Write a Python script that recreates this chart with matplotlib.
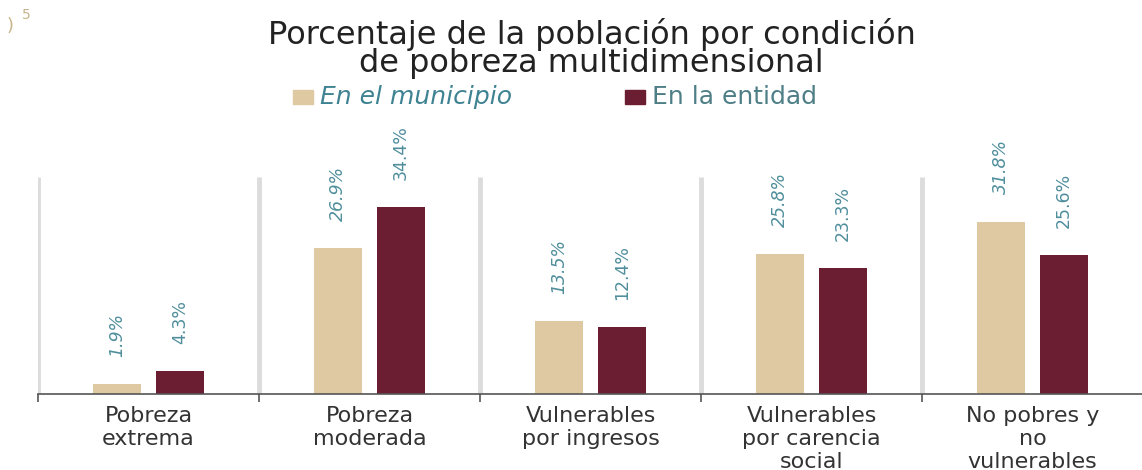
import matplotlib.pyplot as plt

categorias = ['Pobreza\nextrema', 'Pobreza\nmoderada', 'Vulnerables\npor ingresos',
              'Vulnerables\npor carencia\nsocial', 'No pobres y\nno\nvulnerables']
municipio = [1.9, 26.9, 13.5, 25.8, 31.8]
entidad = [4.3, 34.4, 12.4, 23.3, 25.6]

col_mun = '#dfc9a3'
col_ent = '#6b1d32'
col_lbl = '#4f8e9c'

fig = plt.figure(figsize=(11.42, 4.70), dpi=100)
ax = fig.add_axes([0.0333, 0.1617, 0.9676, 0.60])

n = len(categorias)
x = list(range(n))
w = 0.22
off = 0.142

# separadores grises
ax.vlines([i - 0.5 for i in range(n + 1)], 0, 40, colors='#dcdcdc', lw=3.5, zorder=0)

ax.bar([i - off for i in x], municipio, w, color=col_mun, zorder=2)
ax.bar([i + off for i in x], entidad, w, color=col_ent, zorder=2)

for i in x:
    ax.text(i - off, municipio[i] + 5.0, '{}%'.format(municipio[i]), rotation=90,
            ha='center', va='bottom', fontsize=12.5, style='italic', color=col_lbl,
            family=['DejaVu Sans Condensed', 'DejaVu Sans'])
    ax.text(i + off, entidad[i] + 5.0, '{}%'.format(entidad[i]), rotation=90,
            ha='center', va='bottom', fontsize=12.5, color=col_lbl,
            family=['DejaVu Sans Condensed', 'DejaVu Sans'])

ax.set_xlim(-0.5, n - 0.5)
ax.set_ylim(0, 52)
for s in ['top', 'right', 'left']:
    ax.spines[s].set_visible(False)
ax.spines['bottom'].set_color('#555555')
ax.spines['bottom'].set_linewidth(1.2)
ax.set_yticks([])
ax.set_xticks([i - 0.5 for i in range(n + 1)])
ax.set_xticklabels([])
ax.tick_params(axis='x', length=6, width=1.2, color='#555555')

for i in x:
    ax.text(i, -2.2, categorias[i], ha='center', va='top', fontsize=16,
            color='#333333', linespacing=1.18)

fig.text(0.518, 0.962, 'Porcentaje de la población por condición\nde pobreza multidimensional',
         ha='center', va='top', fontsize=23, color='#222222', linespacing=0.88)

# leyenda
fig.patches.append(plt.Rectangle((293 / 1142, 1 - 104 / 470), 20 / 1142, 14 / 470,
                                 transform=fig.transFigure, color=col_mun))
fig.text(320 / 1142, 1 - 97 / 470, 'En el municipio', ha='left', va='center',
         fontsize=18, style='italic', color='#3f8393')
fig.patches.append(plt.Rectangle((625 / 1142, 1 - 104 / 470), 20 / 1142, 14 / 470,
                                 transform=fig.transFigure, color=col_ent))
fig.text(652 / 1142, 1 - 97 / 470, 'En la entidad', ha='left', va='center',
         fontsize=18, color='#4f7f86')

fig.text(0.006, 0.945, ')', fontsize=13, color='#c8b48a', va='center')
fig.text(0.019, 0.968, '5', fontsize=10, color='#c8b48a', va='center')

fig.savefig('out.png', dpi=100)
